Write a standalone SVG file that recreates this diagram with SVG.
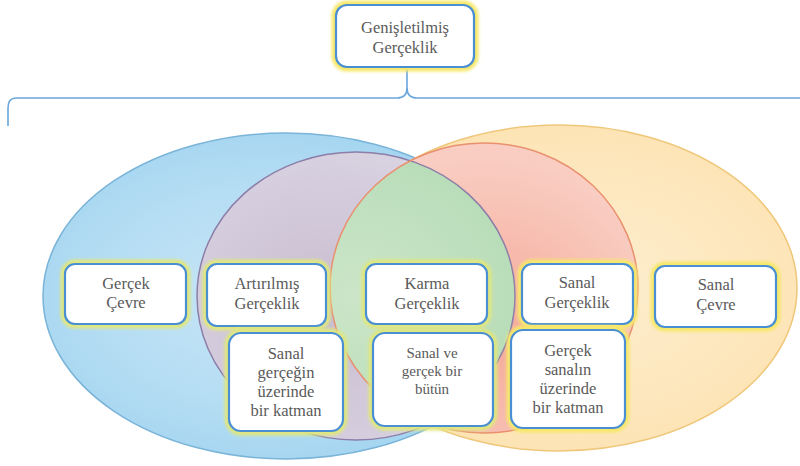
<svg xmlns="http://www.w3.org/2000/svg" width="800" height="466" viewBox="0 0 800 466">
<defs>
<radialGradient id="gBlue" cx="0.45" cy="0.5" r="0.6">
<stop offset="0" stop-color="#c9e6f6"/><stop offset="0.6" stop-color="#b3dcf3"/><stop offset="1" stop-color="#9fd2ef"/>
</radialGradient>
<radialGradient id="gOrange" cx="0.55" cy="0.5" r="0.6">
<stop offset="0" stop-color="#fdeed0"/><stop offset="1" stop-color="#fde2b0"/>
</radialGradient>
<radialGradient id="gPurple" cx="0.4" cy="0.55" r="0.6">
<stop offset="0" stop-color="#c8bccf"/><stop offset="1" stop-color="#d9d3e2"/>
</radialGradient>
<radialGradient id="gRed" cx="0.5" cy="0.65" r="0.6">
<stop offset="0" stop-color="#f4a898"/><stop offset="1" stop-color="#f9cdc2"/>
</radialGradient>
<radialGradient id="gGreen" cx="0.5" cy="0.5" r="0.6">
<stop offset="0" stop-color="#cbe6c8"/><stop offset="1" stop-color="#b6dbb6"/>
</radialGradient>
<clipPath id="clipRed"><ellipse cx="484" cy="288" rx="154" ry="145"/></clipPath>
<filter id="glow" x="-20%" y="-20%" width="140%" height="140%"><feGaussianBlur stdDeviation="1.8"/></filter>
</defs>
<style>
.glowG{fill:none;stroke:#dfe77f;stroke-width:9;filter:url(#glow)}
.glowY{fill:none;stroke:#f7e86a;stroke-width:9;filter:url(#glow)}
.box{fill:#ffffff;stroke:#4a8fd2;stroke-width:2.2}
.t{font-family:'Liberation Serif','Times New Roman','DejaVu Serif',serif;font-size:16.5px;fill:#5a5a5a;text-anchor:middle}
.ts{font-family:'Liberation Serif','Times New Roman','DejaVu Serif',serif;font-size:15px;fill:#5a5a5a;text-anchor:middle}
.brace{fill:none;stroke:#6aa6dc;stroke-width:1.6}
</style>

<g id="venn">
<ellipse id="blue" cx="286" cy="296" rx="243" ry="163" fill="url(#gBlue)" stroke="#7ab4d8" stroke-width="1.5"/>
<ellipse id="orange" cx="559" cy="288" rx="238" ry="163" fill="url(#gOrange)" stroke="#efc77a" stroke-width="1.5"/>
<ellipse id="purple" cx="356" cy="296" rx="159" ry="144" fill="url(#gPurple)"/>
<ellipse id="red" cx="484" cy="288" rx="154" ry="145" fill="url(#gRed)"/>
<ellipse id="green" cx="356" cy="296" rx="159" ry="144" fill="url(#gGreen)" clip-path="url(#clipRed)"/>
<ellipse cx="356" cy="296" rx="159" ry="144" fill="none" stroke="#8c7ea8" stroke-width="1.5"/>
<ellipse cx="484" cy="288" rx="154" ry="145" fill="none" stroke="#e9916f" stroke-width="1.5"/>
</g>

<g id="connectors">
<path class="brace" d="M407,68 L407,88 Q407,98 397,98 L16,98 Q8,98 8,108 L8,126"/>
<path class="brace" d="M407,88 Q407,98 417,98 L800,98"/>
</g>

<g id="n-genisletilmis">
<rect class="glowY" x="336" y="5" width="138" height="62" rx="11"/>
<rect class="box" x="336" y="5" width="138" height="62" rx="11"/>
<text class="t" x="405" y="33" font-family="Liberation Serif, serif">Genişletilmiş</text>
<text class="t" x="405" y="53" font-family="Liberation Serif, serif">Gerçeklik</text>
</g>

<g id="n-gercek-cevre">
<rect class="glowG" x="65" y="264" width="121" height="60" rx="10"/>
<rect class="box" x="65" y="264" width="121" height="60" rx="10"/>
<text class="t" x="126" y="289">Gerçek</text>
<text class="t" x="126" y="308">Çevre</text>
</g>

<g id="n-artirilmis">
<rect class="glowG" x="207" y="264" width="119" height="62" rx="10"/>
<rect class="box" x="207" y="264" width="119" height="62" rx="10"/>
<text class="t" x="267" y="289">Artırılmış</text>
<text class="t" x="267" y="309">Gerçeklik</text>
</g>

<g id="n-artirilmis-desc">
<rect class="glowG" x="229" y="333" width="114" height="98" rx="12"/>
<rect class="box" x="229" y="333" width="114" height="98" rx="12"/>
<text class="t" x="286" y="359">Sanal</text>
<text class="t" x="286" y="378">gerçeğin</text>
<text class="t" x="286" y="397">üzerinde</text>
<text class="t" x="286" y="416">bir katman</text>
</g>

<g id="n-karma">
<rect class="glowG" x="366" y="264" width="121" height="60" rx="10"/>
<rect class="box" x="366" y="264" width="121" height="60" rx="10"/>
<text class="t" x="427" y="289">Karma</text>
<text class="t" x="427" y="309">Gerçeklik</text>
</g>

<g id="n-karma-desc">
<rect class="glowG" x="373" y="333" width="120" height="93" rx="12"/>
<rect class="box" x="373" y="333" width="120" height="93" rx="12"/>
<text class="ts" x="432" y="358">Sanal ve</text>
<text class="ts" x="432" y="376">gerçek bir</text>
<text class="ts" x="432" y="394">bütün</text>
</g>

<g id="n-sanal-gerceklik">
<rect class="glowY" x="522" y="264" width="111" height="60" rx="10"/>
<rect class="box" x="522" y="264" width="111" height="60" rx="10"/>
<text class="t" x="577" y="288">Sanal</text>
<text class="t" x="577" y="308">Gerçeklik</text>
</g>

<g id="n-sanal-gerceklik-desc">
<rect class="glowY" x="511" y="330" width="114" height="98" rx="12"/>
<rect class="box" x="511" y="330" width="114" height="98" rx="12"/>
<text class="t" x="568" y="356">Gerçek</text>
<text class="t" x="568" y="375">sanalın</text>
<text class="t" x="568" y="394">üzerinde</text>
<text class="t" x="568" y="413">bir katman</text>
</g>

<g id="n-sanal-cevre">
<rect class="glowY" x="655" y="266" width="121" height="61" rx="10"/>
<rect class="box" x="655" y="266" width="121" height="61" rx="10"/>
<text class="t" x="716" y="290">Sanal</text>
<text class="t" x="716" y="310">Çevre</text>
</g>
</svg>
